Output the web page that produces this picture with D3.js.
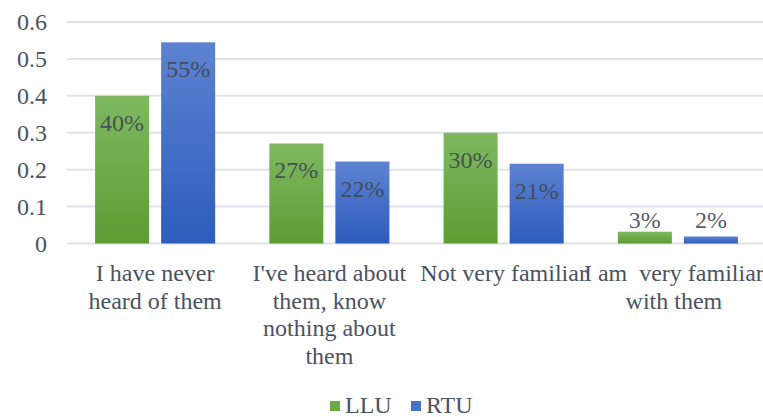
<!DOCTYPE html>
<html><head><meta charset="utf-8">
<script src="https://cdn.jsdelivr.net/npm/d3@7"></script>
</head><body style="margin:0">
<svg id="c" width="763" height="417" style="display:block"></svg>
<script>
const categories = ["I have never heard of them", "I've heard about them, know nothing about them", "Not very familiar", "I am very familiar with them"];
const categoryLines = [["I have never","heard of them"],["I've heard about","them, know","nothing about","them"],["Not very familiar"],["I am  very familiar","with them"]];
const series = ["LLU","RTU"];
const lluValues = [0.40, 0.271, 0.30, 0.032];
const rtuValues = [0.545, 0.222, 0.216, 0.019];
const lluLabels = ["40%","27%","30%","3%"];
const rtuLabels = ["55%","22%","21%","2%"];
const yTicks = [0,0.1,0.2,0.3,0.4,0.5,0.6];

const svg = d3.select("#c");
const FF = "Liberation Serif";
const textColor = "#4a5362";

const defs = svg.append("defs");
const g1 = defs.append("linearGradient").attr("id","gLLU").attr("x1",0).attr("y1",0).attr("x2",0).attr("y2",1);
g1.append("stop").attr("offset","0%").attr("stop-color","#7eb961");
g1.append("stop").attr("offset","100%").attr("stop-color","#5d9d33");
const g2 = defs.append("linearGradient").attr("id","gRTU").attr("x1",0).attr("y1",0).attr("x2",0).attr("y2",1);
g2.append("stop").attr("offset","0%").attr("stop-color","#5d82d1");
g2.append("stop").attr("offset","100%").attr("stop-color","#2d5dbd");
const fills = {LLU:"url(#gLLU)", RTU:"url(#gRTU)"};
const solid = {LLU:"#6aab44", RTU:"#4472c4"};

const y = d3.scaleLinear().domain([0,0.6]).range([243.5,22]);
const x0 = d3.scaleBand().domain(categories).range([68,765]).paddingInner(0.311).paddingOuter(0.1555);
const x1 = d3.scaleBand().domain(series).range([0,x0.bandwidth()]).paddingInner(12/66);

// gridlines
svg.append("g").selectAll("line").data(yTicks).join("line")
  .attr("x1",67).attr("x2",763).attr("y1",d=>y(d)).attr("y2",d=>y(d))
  .attr("stroke","#dfe2e8").attr("stroke-width",2);

// y axis labels
const yAxis = d3.axisLeft(y).tickValues(yTicks).tickSize(0).tickPadding(0).tickFormat(d=>d===0?"0":d3.format(".1f")(d));
const ya = svg.append("g").attr("transform","translate(47,0)").call(yAxis);
ya.attr("font-family",FF).attr("font-size",24);
ya.select(".domain").remove();
ya.selectAll("text").attr("fill",textColor).attr("dy","0.33em");

const rows = categories.map((c,i)=>({c, vals:[
  {s:"LLU", v:lluValues[i], label:lluLabels[i]},
  {s:"RTU", v:rtuValues[i], label:rtuLabels[i]}]}));

const grp = svg.append("g").attr("font-family",FF).attr("font-size",24).selectAll("g").data(rows).join("g")
  .attr("transform",d=>`translate(${x0(d.c)},0)`);
grp.selectAll("rect").data(d=>d.vals).join("rect")
  .attr("x",d=>x1(d.s)).attr("width",x1.bandwidth())
  .attr("y",d=>y(d.v)).attr("height",d=>y(0)-y(d.v))
  .attr("fill",d=>fills[d.s]);
grp.selectAll("text").data(d=>d.vals).join("text")
  .attr("x",d=>x1(d.s)+x1.bandwidth()/2)
  .attr("y",d=> (y(0)-y(d.v))>40 ? y(d.v)+35 : y(0)-16)
  .attr("text-anchor","middle")
  .attr("fill","#3f4650").attr("fill-opacity",0.9)
  .text(d=>d.label);

// category labels
const cl = svg.append("g").attr("font-family",FF).attr("font-size",24).selectAll("text").data(categories).join("text")
  .attr("x",(d,i)=>x0(d)+x0.bandwidth()/2 - (i===3?4:0))
  .attr("y",281)
  .attr("xml:space","preserve")
  .attr("text-anchor","middle").attr("fill",textColor);
cl.each(function(d,i){
  d3.select(this).selectAll("tspan").data(categoryLines[i]).join("tspan")
    .attr("x",x0(d)+x0.bandwidth()/2 - (i===3?4:0))
    .attr("dy",(t,j)=>j===0?0:27.5)
    .text(t=>t);
});

// legend
const legend = svg.append("g").attr("font-family",FF).attr("font-size",24);
const legX = [330, 411];
series.forEach((s,i)=>{
  legend.append("rect").attr("x",legX[i]).attr("y",401).attr("width",10).attr("height",10).attr("fill",solid[s]);
  legend.append("text").attr("x",legX[i]+15).attr("y",413)
    .attr("fill",textColor).text(s);
});
</script>
</body></html>
